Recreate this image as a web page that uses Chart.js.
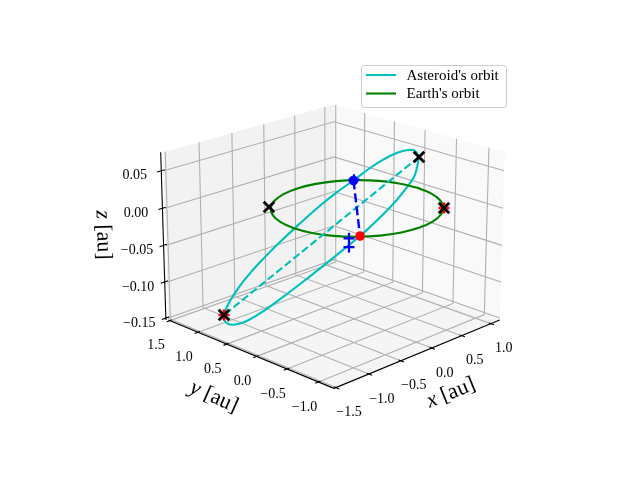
<!DOCTYPE html>
<html lang="en">

<head>
    <meta charset="UTF-8">
    <title>Asteroid orbit</title>
    <script src="https://cdn.jsdelivr.net/npm/chart.js"></script>
    <style>
        body { margin: 0; background: #fff; }
    </style>
</head>

<body>
    <canvas id="orbitChart" width="640" height="480"></canvas>

    <script>
        // axis ranges and ticks, in au
        const xLim = [-1.53, 1.155];
        const yLim = [-1.24, 1.53];
        const zLim = [-0.1527, 0.0743];
        const xTicks = [-1.5, -1.0, -0.5, 0.0, 0.5, 1.0];
        const yTicks = [-1.0, -0.5, 0.0, 0.5, 1.0, 1.5];
        const zTicks = [-0.15, -0.10, -0.05, 0.00, 0.05];
        const xTickLabels = ['−1.5', '−1.0', '−0.5', '0.0', '0.5', '1.0'];
        const yTickLabels = ['−1.0', '−0.5', '0.0', '0.5', '1.0', '1.5'];
        const zTickLabels = ['−0.15', '−0.10', '−0.05', '0.00', '0.05'];

        // Earth's orbit
        const earthX = [1.005, 0.971, 0.873, 0.716, 0.513, 0.275, 0.02, -0.235, -0.473, -0.676, -0.833, -0.931, -0.965, -0.931, -0.833, -0.676, -0.473, -0.235, 0.02, 0.275, 0.513, 0.716, 0.873, 0.971, 1.005];
        const earthY = [-0.02, 0.235, 0.473, 0.676, 0.833, 0.931, 0.965, 0.931, 0.833, 0.676, 0.473, 0.235, -0.02, -0.275, -0.513, -0.716, -0.873, -0.971, -1.005, -0.971, -0.873, -0.716, -0.513, -0.275, -0.02];
        const earthZ = [0, 0, 0, 0, 0, 0, 0, 0, 0, 0, 0, 0, 0, 0, 0, 0, 0, 0, 0, 0, 0, 0, 0, 0, 0];

        // asteroid's orbit
        const asteroidX = [0.535, 0.731, 0.830, 0.883, 0.868, 0.806, 0.679, 0.560, 0.406, 0.182, -0.054, -0.204, -0.381, -0.549, -0.751, -0.971, -1.201, -1.347, -1.467, -1.533, -1.555, -1.510, -1.428, -1.306, -1.202, -1.094, -0.939, -0.819, -0.702, -0.596, -0.440, -0.244, -0.027, 0.153, 0.535];
        const asteroidY = [-0.494, -0.244, -0.039, 0.194, 0.399, 0.557, 0.706, 0.870, 0.998, 1.109, 1.189, 1.221, 1.235, 1.226, 1.178, 1.077, 0.915, 0.748, 0.541, 0.350, 0.155, -0.017, -0.149, -0.288, -0.393, -0.491, -0.619, -0.706, -0.794, -0.841, -0.890, -0.903, -0.869, -0.797, -0.494];
        const asteroidZ = [0.0655, 0.0626, 0.0562, 0.0451, 0.0314, 0.0175, 0.0000, -0.0179, -0.0358, -0.0573, -0.0776, -0.0893, -0.1016, -0.1120, -0.1221, -0.1300, -0.1349, -0.1339, -0.1288, -0.1212, -0.1105, -0.0968, -0.0833, -0.0667, -0.0534, -0.0403, -0.0223, -0.0091, 0.0039, 0.0138, 0.0270, 0.0404, 0.0524, 0.0596, 0.0655];

        // line of apsides and line of nodes
        const apsisX = [0.535, -1.234];
        const apsisY = [-0.494, 0.883];
        const apsisZ = [0.0655, -0.135];
        const nodeX = [0.674, -0.633];
        const nodeY = [0.701, -0.725];
        const nodeZ = [0, 0];

        // markers
        const blackCrossX = [0.535, -1.234, -0.673, 0.693];
        const blackCrossY = [-0.494, 0.883, 0.711, -0.749];
        const blackCrossZ = [0.0655, -0.135, 0, 0];
        const redPlusX = [-1.234, 0.693];
        const redPlusY = [0.883, -0.749];
        const redPlusZ = [-0.135, 0];
        const bluePlusX = [0.681, -0.647, -0.843];
        const bluePlusY = [0.700, -0.567, -0.766];
        const bluePlusZ = [0.001, -0.007, -0.007];

        const cyan = '#00bfbf';
        const green = '#008000';

        // same camera as a matplotlib 3d axes
        const elev = 20 * Math.PI / 180, azim = -135 * Math.PI / 180, dist = 10;
        const boxSize = [4, 4, 3].map(v => v * 1.9057 / Math.sqrt(41));
        const camN = [Math.cos(elev) * Math.cos(azim), Math.cos(elev) * Math.sin(azim), Math.sin(elev)];
        const camU = [-Math.sin(azim), Math.cos(azim), 0];
        const camV = [-Math.sin(elev) * Math.cos(azim), -Math.sin(elev) * Math.sin(azim), Math.cos(elev)];
        const dot = (a, b) => a[0] * b[0] + a[1] * b[1] + a[2] * b[2];

        function project(x, y, z) {
            const d = [
                ((x - xLim[0]) / (xLim[1] - xLim[0]) - 0.5) * boxSize[0],
                ((y - yLim[0]) / (yLim[1] - yLim[0]) - 0.5) * boxSize[1],
                ((z - zLim[0]) / (zLim[1] - zLim[0]) - 0.5) * boxSize[2]
            ];
            const w = dist - dot(camN, d);
            return { x: 334 + 1998 * dot(camU, d) / w, y: 237.4 - 1998 * dot(camV, d) / w };
        }

        const track = (xs, ys, zs) => xs.map((x, i) => project(x, ys[i], zs[i]));
        const gap = { x: NaN, y: NaN };

        // grid lines run over the floor and up the back walls
        const [x0, x1] = xLim, [y0, y1] = yLim, [z0, z1] = zLim;
        const gridPoints = [];
        xTicks.forEach(t => gridPoints.push(project(t, y0, z0), project(t, y1, z0), project(t, y1, z1), gap));
        yTicks.forEach(t => gridPoints.push(project(x0, t, z0), project(x1, t, z0), project(x1, t, z1), gap));
        zTicks.forEach(t => gridPoints.push(project(x0, y1, t), project(x1, y1, t), project(x1, y0, t), gap));

        const axisPoints = [
            project(x1, y0, z0), project(x0, y0, z0), gap,
            project(x0, y0, z0), project(x0, y1, z0), gap,
            project(x0 - 0.02, y1 + 0.02, z0), project(x0 - 0.02, y1 + 0.02, z1)
        ];
        const tickPoints = [];
        xTicks.forEach(t => tickPoints.push(project(t, y0 - 0.05, z0), project(t, y0 + 0.03, z0), gap));
        yTicks.forEach(t => tickPoints.push(project(x0 - 0.05, t, z0), project(x0 + 0.03, t, z0), gap));
        zTicks.forEach(t => tickPoints.push(project(x0 - 0.08, y1 + 0.02, t), project(x0 + 0.03, y1 + 0.02, t), gap));

        const lineSet = (label, data, color, width, extra) => Object.assign({
            label, data, borderColor: color, borderWidth: width, showLine: true, pointRadius: 0, clip: false
        }, extra);
        const markerSet = (label, data, style, radius, color, width) => ({
            label, data, showLine: false, pointStyle: style, pointRadius: radius, clip: false,
            pointBorderColor: color, pointBackgroundColor: color, pointBorderWidth: width
        });

        // first dataset ends up on top
        const datasets = [
            markerSet('crosses', track(blackCrossX, blackCrossY, blackCrossZ), 'crossRot', 7.5, '#000', 2.8),
            markerSet('plus', track(redPlusX, redPlusY, redPlusZ), 'cross', 5.5, '#f00', 2.6),
            markerSet('asteroid node', track(nodeX.slice(0, 1), nodeY.slice(0, 1), nodeZ.slice(0, 1)), 'circle', 4.8, '#00f', 0),
            markerSet('earth', track(nodeX.slice(1), nodeY.slice(1), nodeZ.slice(1)), 'circle', 4.8, '#f00', 0),
            markerSet('plus blue', track(bluePlusX, bluePlusY, bluePlusZ), 'cross', 5.5, '#00f', 2.2),
            lineSet('nodes', track(nodeX, nodeY, nodeZ), '#00f', 2.4, { borderDash: [9, 4] }),
            lineSet('apsides', track(apsisX, apsisY, apsisZ), cyan, 2.1, { borderDash: [7.7, 3.3] }),
            lineSet("Earth's orbit", track(earthX, earthY, earthZ), green, 2.1, { tension: 0.4 }),
            lineSet("Asteroid's orbit", track(asteroidX, asteroidY, asteroidZ), cyan, 2.1, { tension: 0.4 }),
            lineSet('ticks', tickPoints, '#000', 1.1),
            lineSet('axes', axisPoints, '#000', 1.1),
            lineSet('grid', gridPoints, '#b0b0b0', 1.1)
        ];

        const serif = '"Liberation Serif"';

        function fillPane(ctx, scales, corners, color) {
            ctx.fillStyle = color;
            ctx.beginPath();
            corners.forEach(c => {
                const p = project(c[0], c[1], c[2]);
                ctx.lineTo(scales.x.getPixelForValue(p.x), scales.y.getPixelForValue(p.y));
            });
            ctx.closePath();
            ctx.fill();
        }

        // mixed italic and upright label, centred and rotated
        function drawLabel(ctx, parts, cx, cy, angle, size) {
            ctx.save();
            ctx.translate(cx, cy);
            ctx.rotate(angle * Math.PI / 180);
            ctx.textBaseline = 'middle';
            ctx.textAlign = 'left';
            let width = 0;
            parts.forEach(p => {
                ctx.font = `${p[1]} ${size}px ${serif}`;
                width += ctx.measureText(p[0]).width;
            });
            let pos = -width / 2;
            ctx.fillStyle = '#000';
            parts.forEach(p => {
                ctx.font = `${p[1]} ${size}px ${serif}`;
                ctx.fillText(p[0], pos, 0);
                pos += ctx.measureText(p[0]).width;
            });
            ctx.restore();
        }

        const backdrop = {
            id: 'backdrop',
            beforeDatasetsDraw(chart) {
                const { ctx, scales } = chart;
                ctx.save();
                fillPane(ctx, scales, [[x0, y1, z0], [x1, y1, z0], [x1, y1, z1], [x0, y1, z1]], '#f2f2f2');
                fillPane(ctx, scales, [[x1, y0, z0], [x1, y1, z0], [x1, y1, z1], [x1, y0, z1]], '#f9f9f9');
                fillPane(ctx, scales, [[x0, y0, z0], [x1, y0, z0], [x1, y1, z0], [x0, y1, z0]], '#f5f5f5');
                ctx.restore();
            }
        };

        const annotations = {
            id: 'annotations',
            afterDraw(chart) {
                const { ctx } = chart;
                ctx.save();
                ctx.fillStyle = '#000';
                ctx.textAlign = 'center';
                ctx.textBaseline = 'middle';
                ctx.font = `14px ${serif}`;
                xTicks.forEach((t, i) => {
                    const p = project(t, y0, z0);
                    ctx.fillText(xTickLabels[i], p.x + 13, p.y + 25);
                });
                yTicks.forEach((t, i) => {
                    const p = project(x0, t, z0);
                    ctx.fillText(yTickLabels[i], p.x - 14, p.y + 25);
                });
                zTicks.forEach((t, i) => {
                    const p = project(x0, y1, t);
                    ctx.fillText(zTickLabels[i], p.x - 29, p.y + 5);
                });
                drawLabel(ctx, [['x', 'italic'], [' [au]', 'normal']], 451, 393, -22, 22);
                drawLabel(ctx, [['y', 'italic'], [' [au]', 'normal']], 214, 397, 24, 22);
                drawLabel(ctx, [['z', 'italic'], [' [au]', 'normal']], 103, 235, 88.6, 22);

                // legend
                ctx.fillStyle = 'rgba(255,255,255,0.8)';
                ctx.strokeStyle = '#cccccc';
                ctx.lineWidth = 1;
                ctx.beginPath();
                ctx.roundRect(361.5, 65.5, 145, 42, 3);
                ctx.fill();
                ctx.stroke();
                ctx.lineWidth = 2.1;
                ctx.strokeStyle = cyan;
                ctx.beginPath();
                ctx.moveTo(366, 75);
                ctx.lineTo(396, 75);
                ctx.stroke();
                ctx.strokeStyle = green;
                ctx.beginPath();
                ctx.moveTo(366, 93.5);
                ctx.lineTo(396, 93.5);
                ctx.stroke();
                ctx.fillStyle = '#000';
                ctx.textAlign = 'left';
                ctx.textBaseline = 'alphabetic';
                ctx.font = `15px ${serif}`;
                ctx.fillText("Asteroid's orbit", 406.5, 79.5);
                ctx.fillText("Earth's orbit", 406.5, 98);
                ctx.restore();
            }
        };

        new Chart(document.getElementById('orbitChart'), {
            type: 'scatter',
            data: { datasets },
            options: {
                responsive: false,
                animation: false,
                events: [],
                layout: { padding: 0, autoPadding: false },
                plugins: { legend: { display: false }, tooltip: { enabled: false } },
                scales: {
                    x: { type: 'linear', min: 0, max: 640, display: false },
                    y: { type: 'linear', min: 0, max: 480, reverse: true, display: false }
                }
            },
            plugins: [backdrop, annotations]
        });
    </script>
</body>

</html>
